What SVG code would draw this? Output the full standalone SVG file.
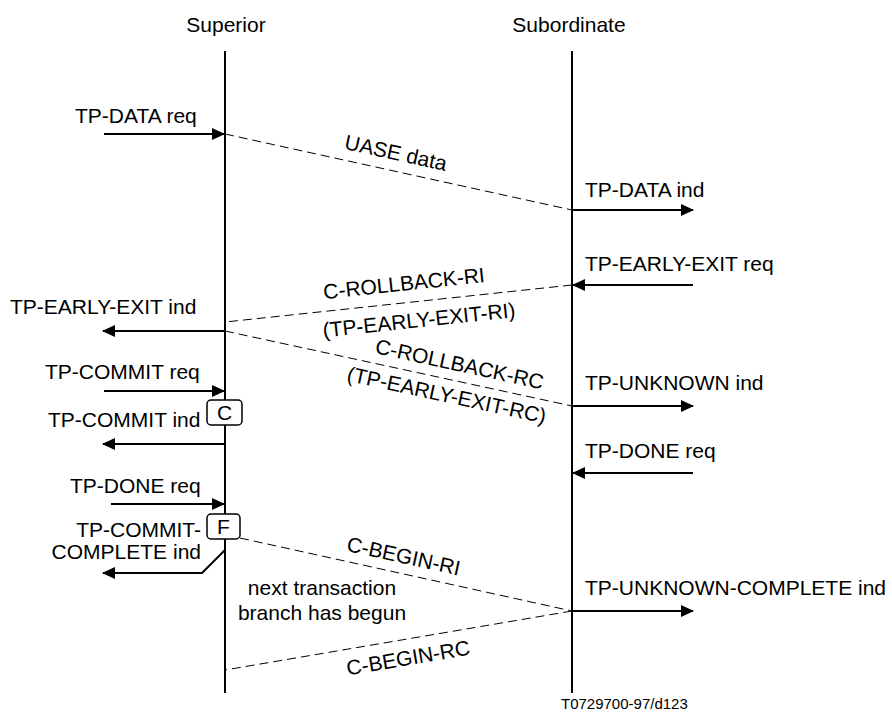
<svg xmlns="http://www.w3.org/2000/svg" width="892" height="715" viewBox="0 0 892 715">
<style>
text{font-family:"Liberation Sans",Arial,sans-serif;font-size:21px;fill:#000}
.life{stroke:#000;stroke-width:2;fill:none}
.msg{stroke:#000;stroke-width:2;fill:none;marker-end:url(#ah)}
.dash{stroke:#000;stroke-width:1;fill:none;stroke-dasharray:9 5}
.box{fill:#fff;stroke:#000;stroke-width:1.5}
.m{text-anchor:middle}
.e{text-anchor:end}
.small{font-size:15px}
</style>
<defs>
<marker id="ah" markerUnits="userSpaceOnUse" markerWidth="13" markerHeight="12" refX="12" refY="6" orient="auto">
<path d="M0,0 L13,6 L0,12 z" fill="#000"/>
</marker>
</defs>
<rect width="892" height="715" fill="#fff"/>
<g id="superior">
<text class="m" x="226" y="32">Superior</text>
<line class="life" x1="225" y1="51" x2="225" y2="693"/>
</g>
<g id="subordinate">
<text class="m" x="569" y="32">Subordinate</text>
<line class="life" x1="572" y1="51" x2="572" y2="693"/>
</g>
<g id="box-c">
<rect class="box" x="207" y="400" width="35" height="25" rx="4"/>
<text class="m" x="224.5" y="420">C</text>
</g>
<g id="box-f">
<rect class="box" x="207" y="514" width="33" height="25" rx="4"/>
<text class="m" x="223.5" y="534">F</text>
</g>
<g id="connectors">
<line class="msg" x1="104" y1="134" x2="224" y2="134"/>
<text x="75" y="123">TP-DATA req</text>
<line class="dash" x1="225" y1="134" x2="572" y2="210"/>
<text class="m" transform="translate(392,170.6) rotate(12.35)" y="-11">UASE data</text>
<line class="msg" x1="572" y1="210" x2="693" y2="210"/>
<text x="585" y="197">TP-DATA ind</text>

<line class="msg" x1="693" y1="285" x2="573" y2="285"/>
<text x="585" y="271">TP-EARLY-EXIT req</text>
<line class="dash" x1="572" y1="285" x2="225" y2="322"/>
<text class="m" transform="translate(406,302.6) rotate(-6.04)" y="-12">C-ROLLBACK-RI</text>
<text class="m" transform="translate(417,301.4) rotate(-6.04)" y="26">(TP-EARLY-EXIT-RI)</text>
<line class="msg" x1="225" y1="331" x2="103" y2="331"/>
<text x="10" y="314">TP-EARLY-EXIT ind</text>
<line class="dash" x1="225" y1="331" x2="572" y2="406"/>
<text class="m" transform="translate(456,381) rotate(12.2)" y="-10">C-ROLLBACK-RC</text>
<text class="m" transform="translate(450,379.6) rotate(12.2)" y="23">(TP-EARLY-EXIT-RC)</text>
<line class="msg" x1="572" y1="406" x2="693" y2="406"/>
<text x="585" y="390">TP-UNKNOWN ind</text>

<line class="msg" x1="104" y1="391" x2="224" y2="391"/>
<text x="45" y="379">TP-COMMIT req</text>
<line class="msg" x1="225" y1="444" x2="103" y2="444"/>
<text x="48" y="427">TP-COMMIT ind</text>

<line class="msg" x1="693" y1="473" x2="573" y2="473"/>
<text x="585" y="458">TP-DONE req</text>

<line class="msg" x1="111" y1="504" x2="224" y2="504"/>
<text x="70" y="493">TP-DONE req</text>
<text class="e" x="201" y="537">TP-COMMIT-</text>
<text class="e" x="201" y="559">COMPLETE ind</text>
<polyline class="msg" points="225,550 202,573 103,573"/>

<line class="dash" x1="240" y1="538" x2="572" y2="611"/>
<text class="m" transform="translate(400,573) rotate(12.4)" y="-10">C-BEGIN-RI</text>
<line class="msg" x1="572" y1="611" x2="693" y2="611"/>
<text x="585" y="595">TP-UNKNOWN-COMPLETE ind</text>
<line class="dash" x1="572" y1="611" x2="225" y2="670"/>
<text class="m" transform="translate(405,639.4) rotate(-9.65)" y="26">C-BEGIN-RC</text>
<text class="m" x="322" y="595">next transaction</text>
<text class="m" x="322" y="620">branch has begun</text>
</g>
<text class="small" x="561" y="709">T0729700-97/d123</text>
</svg>
